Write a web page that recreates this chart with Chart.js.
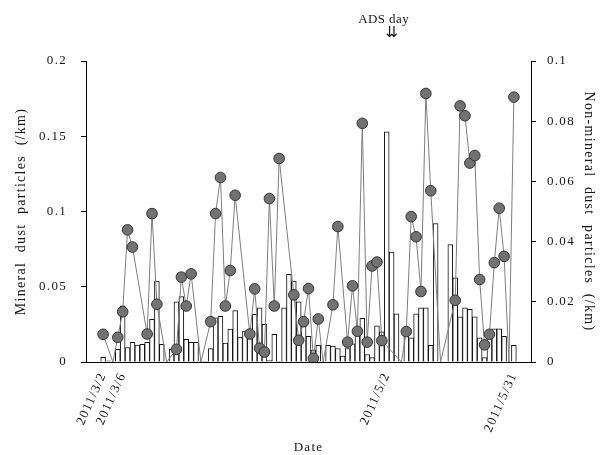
<!DOCTYPE html>
<html>
<head>
<meta charset="utf-8">
<script src="https://cdn.jsdelivr.net/npm/chart.js@4.4.1/dist/chart.umd.min.js"></script>
<style>
  html, body { margin: 0; padding: 0; background: #ffffff; }
  #c { display: block; }
</style>
</head>
<body>
<canvas id="c" width="604" height="455"></canvas>
<script>
// Daily values (category slots; null = no slot data). Left axis: mineral dust (/km)
const mineral = [
  null, null, null,
  0.0031, 0.0008, 0, 0.0084, 0.0374, 0.0095, 0.013, 0.0113, 0.0117, 0.013,
  0.0284, 0.0538, 0.0117, 0, 0.0084, 0.040, 0.0434, 0.0151, 0.0131, 0.0131,
  0, 0.0005, 0.0089, 0.0294, 0.0303, 0.0125, 0.0219, 0.0341, 0.0166, 0.0206,
  0.021, 0.0317, 0.036, 0.025, 0.001, 0.0184, 0.0005, 0.036, 0.0583, 0.0538,
  0.040, 0.030, 0.017, 0.008, 0.011, 0, 0.011, 0.0105, 0.009, 0.004,
  0.009, 0.012, 0.020, 0.029, 0.005, 0.003, 0.024, 0.020, 0.153, 0.073,
  0.032, 0, 0.022, 0.016, 0.032, 0.036, 0.036, 0.011, 0.092, 0,
  0, 0.078, 0.056, 0.030, 0.036, 0.035, 0.030, 0.016, 0.003, 0.020,
  0.022, 0.022, 0.017, 0, 0.011,
  null, null, null
];
// Right axis: non-mineral dust (/km)
const nonMineral = [
  null, null, null,
  0.0092, null, 0, 0.0082, 0.0167, 0.0439, 0.0382, null, null, 0.0093,
  0.0493, 0.0192, null, 0, null, 0.0042, 0.0282, 0.0186, 0.0293, null,
  0, null, 0.0134, 0.0493, 0.0613, 0.0186, 0.0304, 0.0554, null, null,
  0.0093, 0.0243, 0.0046, 0.0033, 0.0543, 0.0186, 0.0676, null, null, 0.0223,
  0.0072, 0.0134, 0.0244, 0.0012, 0.0143, 0, null, 0.0190, 0.0450, null,
  0.0066, 0.0253, 0.0102, 0.0793, 0.0066, 0.0319, 0.0332, 0.0071, null, null,
  null, 0, 0.0101, 0.0483, 0.0416, 0.0234, 0.0892, 0.0569, null, 0,
  null, null, 0.0205, 0.0851, 0.0818, 0.0661, 0.0686, 0.0274, 0.0057, 0.0092,
  0.0330, 0.0511, 0.0351, 0, 0.0880,
  null, null, null
];
const categories = mineral.map((_, i) => 'd' + i);
const tickLabels = { 3: '2011/3/2', 7: '2011/3/6', 61: '2011/5/2', 87: '2011/5/31' };
const adsDayIndex = 62;
const leftTitle = 'Mineral  dust  particles  (/km)';
const rightTitle = 'Non-mineral  dust  particles  (/km)';
const xTitle = 'Date';
const adsText = 'ADS day';

const serif = 'Liberation Serif';
const ink = '#161616';
const spacing = '1.3px';

const spacingPlugin = {
  id: 'spacing',
  beforeUpdate(chart) { chart.ctx.letterSpacing = spacing; },
  beforeDraw(chart) { chart.ctx.letterSpacing = spacing; }
};

const adsPlugin = {
  id: 'ads',
  afterDraw(chart) {
    const c = chart.ctx;
    const x = chart.scales.x.getPixelForValue(adsDayIndex);
    c.save();
    c.letterSpacing = '0.4px';
    c.fillStyle = ink;
    c.font = '13px "' + serif + '"';
    c.textAlign = 'center';
    c.textBaseline = 'alphabetic';
    c.fillText(adsText, x - 8, 23);
    c.letterSpacing = '0px';
    c.font = '15px "DejaVu Sans"';
    c.fillText('\u21CA', x, 37);
    c.restore();
  }
};

new Chart(document.getElementById('c'), {
  data: {
    labels: categories,
    datasets: [
      {
        type: 'line',
        data: nonMineral,
        yAxisID: 'y1',
        borderColor: '#7e7e7e',
        borderWidth: 1,
        tension: 0,
        spanGaps: true,
        pointRadius: c => (c.raw === 0 ? 0 : 5.3),
        pointBackgroundColor: '#727272',
        pointBorderColor: '#333333',
        pointBorderWidth: 1,
        order: 0
      },
      {
        type: 'bar',
        data: mineral,
        yAxisID: 'y',
        backgroundColor: '#ffffff',
        borderColor: '#111111',
        borderWidth: { top: 1, left: 1, right: 1, bottom: 0 },
        borderSkipped: 'start',
        barPercentage: 1,
        categoryPercentage: 1,
        order: 1
      }
    ]
  },
  options: {
    responsive: false,
    animation: false,
    devicePixelRatio: 1,
    layout: { padding: { top: 61, left: 0, right: 0, bottom: 0 } },
    plugins: { legend: { display: false }, tooltip: { enabled: false } },
    scales: {
      x: {
        type: 'category',
        grid: { display: false },
        border: { display: true, color: '#000', width: 1 },
        ticks: {
          autoSkip: false,
          minRotation: 66,
          maxRotation: 66,
          padding: 0,
          color: ink,
          font: { family: serif, size: 13 },
          callback: (v, i) => tickLabels[i] || ''
        },
        title: { display: true, text: xTitle, color: ink, font: { family: serif, size: 13 }, padding: { top: 0, bottom: 0 } },
        afterFit: s => { s.height = 93; }
      },
      y: {
        position: 'left',
        min: 0, max: 0.2,
        ticks: { stepSize: 0.05, color: ink, padding: 14, font: { family: serif, size: 13 },
                 callback: v => String(+v.toFixed(2)) },
        grid: { drawOnChartArea: false, drawTicks: true, tickLength: 5, color: '#000' },
        border: { display: true, color: '#000', width: 1 },
        title: { display: true, text: leftTitle, color: ink, font: { family: serif, size: 14 }, padding: { top: 13, bottom: 0 } },
        afterFit: s => { s.width = 86; }
      },
      y1: {
        position: 'right',
        min: 0, max: 0.1,
        ticks: { stepSize: 0.02, color: ink, padding: 11, font: { family: serif, size: 13 },
                 callback: v => String(+v.toFixed(2)) },
        grid: { drawOnChartArea: false, drawTicks: true, tickLength: 5, color: '#000' },
        border: { display: true, color: '#000', width: 1 },
        title: { display: true, text: rightTitle, color: ink, font: { family: serif, size: 14 }, padding: { top: 7, bottom: 0 } },
        afterFit: s => { s.width = 73; }
      }
    }
  },
  plugins: [spacingPlugin, adsPlugin]
});
</script>
</body>
</html>
